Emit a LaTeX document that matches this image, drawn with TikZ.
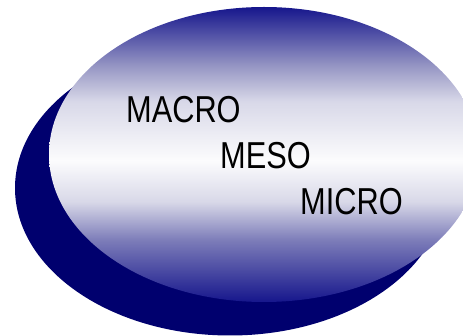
\documentclass[tikz,border=0pt]{standalone}
\usepackage{fontspec}
\setmainfont{Liberation Sans}
\newfontfamily\levelfont[FakeStretch=0.82]{Liberation Sans}

\definecolor{backnavy}{RGB}{0,0,110}
\definecolor{topnavy}{RGB}{22,22,140}
\definecolor{lavdark}{RGB}{150,150,196}
\definecolor{lavlight}{RGB}{216,216,232}
\definecolor{nearwhite}{RGB}{252,252,253}

\pgfdeclareverticalshading{scaleshade}{100bp}{color(0bp)=(topnavy); color(25bp)=(topnavy);
  color(35.5bp)=(lavdark!80!topnavy); color(42bp)=(lavlight); color(49bp)=(nearwhite);
  color(59bp)=(lavlight); color(65bp)=(lavdark); color(75bp)=(topnavy); color(100bp)=(topnavy)}

\begin{document}
\begin{tikzpicture}[x=1pt,y=-1pt,
    level/.style={anchor=base west, inner sep=0pt, font=\levelfont\fontsize{37.5}{40}\selectfont}]
	\useasboundingbox (0,0) rectangle (463,336);
	\clip (0,0) rectangle (463,336);
	
	% shadow behind
	\fill[backnavy] (230,188) ellipse [x radius=215, y radius=147.5];
	
	% front disc
	\shade[shading=scaleshade] (264,154.5) ellipse [x radius=215, y radius=147.5];
	
	\node[level] (macro) at (126,123) {MACRO};
	\node[level] (meso) at (220,169) {MESO};
	\node[level] (micro) at (300,215) {MICRO};
\end{tikzpicture}
\end{document}
